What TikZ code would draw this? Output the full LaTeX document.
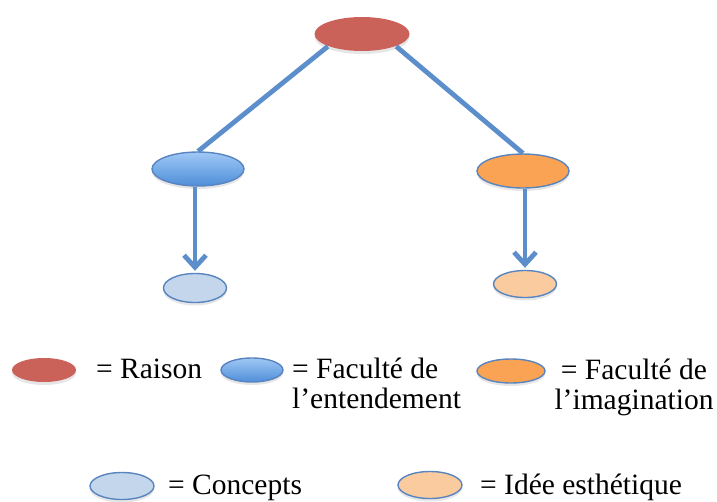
\documentclass[tikz,border=0pt]{standalone}
\usepackage{fontspec}
\setmainfont{Liberation Serif}
\usetikzlibrary{arrows.meta}
\usetikzlibrary{shapes.geometric}
\usetikzlibrary{shadows}

\definecolor{raisonred}{RGB}{203,98,90}
\definecolor{linkblue}{RGB}{92,142,204}
\definecolor{rimblue}{RGB}{88,132,192}
\definecolor{entlight}{RGB}{160,200,245}
\definecolor{entdark}{RGB}{78,142,216}
\definecolor{imagorange}{RGB}{250,163,84}
\definecolor{conceptblue}{RGB}{196,214,236}
\definecolor{ideeorange}{RGB}{250,203,158}

\begin{document}
\begin{tikzpicture} [x=1pt,y=-1pt,
  oval/.style={ellipse, inner sep=0pt, line width=1.4pt, draw=rimblue,
    drop shadow={shadow xshift=0pt, shadow yshift=-3pt, opacity=.2}},
  link/.style={linkblue, line width=4.8pt},
  legend/.style={inner sep=0pt, align=left, font=\fontsize{29.5}{30}\selectfont}]
\useasboundingbox (0,0) rectangle (717,501);

% the tree
\node[oval, draw=none, fill=raisonred, minimum width=95pt, minimum height=34pt] (raison) at (362,34) {};
\node[oval, top color=entlight, bottom color=entdark, minimum width=92pt, minimum height=34pt] (entend) at (198,169) {};
\node[oval, fill=imagorange, minimum width=92pt, minimum height=34pt] (imag) at (523,171) {};
\node[oval, fill=conceptblue, minimum width=63pt, minimum height=29pt] (concepts) at (195,288) {};
\node[oval, fill=ideeorange, minimum width=63pt, minimum height=27pt] (idee) at (525,284) {};

\draw[link] (raison.200) -- (entend.north);
\draw[link] (raison.-20) -- (imag.north);
\draw[link, -{Straight Barb[length=12pt, width=22pt]}, shorten >=2pt] (entend.south -| concepts.north) -- (concepts.north);
\draw[link, -{Straight Barb[length=12pt, width=22pt]}, shorten >=2pt] (imag.south -| idee.north) -- (idee.north);

% legend
\node[oval, draw=none, fill=raisonred, minimum width=64pt, minimum height=24pt] (lraison) at (44,370) {};
\node[legend, anchor=base west] (traison) at (96,378) {= Raison};
\node[oval, top color=entlight, bottom color=entdark, minimum width=62pt, minimum height=24pt] (lentend) at (252,370) {};
\node[legend, anchor=base west] (tentend) at (292,408) {= Faculté de\\l’entendement};
\node[oval, fill=imagorange, minimum width=68pt, minimum height=24pt] (limag) at (511,371) {};
\node[legend, align=center, anchor=base] (timag) at (634,409) {= Faculté de\\l’imagination};
\node[oval, fill=conceptblue, minimum width=64pt, minimum height=27pt] (lconcepts) at (122,486) {};
\node[legend, anchor=base west] (tconcepts) at (168,494) {= Concepts};
\node[oval, fill=ideeorange, minimum width=64pt, minimum height=27pt] (lidee) at (430,485) {};
\node[legend, anchor=base west] (tidee) at (480,494) {= Idée esthétique};

\end{tikzpicture}
\end{document}
